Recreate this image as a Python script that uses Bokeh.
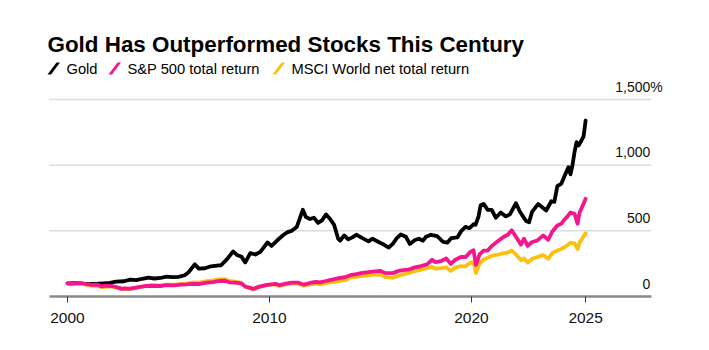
from bokeh.plotting import figure
from bokeh.models import Range1d, FixedTicker, Label, PolyAnnotation, ColumnDataSource
from bokeh.embed import file_html
from bokeh.resources import INLINE

# ---------------- data (index, Jan 2000 = 100; axis in %) ----------------
gold_t = [2000.0, 2000.4, 2000.7, 2001.1, 2001.5, 2001.8, 2002.1, 2002.4, 2002.8, 2003.1,
          2003.4, 2003.7, 2004.0, 2004.3, 2004.6, 2004.9, 2005.2, 2005.5, 2005.8, 2006.0,
          2006.3, 2006.5, 2006.8, 2007.1, 2007.4, 2007.6, 2007.9, 2008.2, 2008.4, 2008.6,
          2008.8, 2009.05, 2009.3, 2009.55, 2009.9, 2010.1, 2010.4, 2010.7, 2010.9, 2011.1,
          2011.35, 2011.5, 2011.65, 2011.8, 2012.0, 2012.2, 2012.4, 2012.6, 2012.8, 2013.0,
          2013.2, 2013.4, 2013.5, 2013.7, 2013.9, 2014.1, 2014.3, 2014.6, 2014.9, 2015.1,
          2015.4, 2015.6, 2015.9, 2016.1, 2016.3, 2016.5, 2016.75, 2016.95, 2017.2, 2017.4,
          2017.6, 2017.75, 2018.0, 2018.3, 2018.6, 2018.8, 2019.0, 2019.3, 2019.5, 2019.7,
          2019.9, 2020.1, 2020.2, 2020.35, 2020.45, 2020.6, 2020.8, 2021.0, 2021.2, 2021.45,
          2021.7, 2021.9, 2022.2, 2022.4, 2022.7, 2022.85, 2023.0, 2023.3, 2023.5, 2023.7,
          2023.95, 2024.1, 2024.25, 2024.45, 2024.6, 2024.8, 2024.9, 2025.0, 2025.1, 2025.2,
          2025.3, 2025.45, 2025.55, 2025.65]
gold_v = [100, 104, 98, 95, 97, 100, 104, 113, 116, 128,
          124, 135, 143, 137, 141, 152, 148, 150, 162, 185,
          245, 212, 215, 230, 235, 238, 285, 343, 315, 305,
          260, 330, 320, 340, 412, 385, 430, 470, 490, 500,
          530, 595, 660, 605, 590, 600, 560, 580, 625, 590,
          545, 440, 425, 465, 435, 450, 470, 445, 420, 440,
          415, 400, 372, 400, 445, 472, 455, 400, 430, 440,
          425, 455, 470, 460, 415, 410, 445, 450, 500, 530,
          520, 550, 545, 610, 695, 705, 660, 660, 600, 640,
          610, 625, 710, 645, 575, 565, 645, 705, 680, 655,
          725, 720, 840, 860, 915, 985, 930, 1000, 1100, 1175,
          1150, 1190, 1220, 1340]

spx_t = [2000.0, 2000.2, 2000.5, 2000.7, 2000.9, 2001.2, 2001.5, 2001.7, 2001.9, 2002.2,
         2002.5, 2002.7, 2002.8, 2003.1, 2003.3, 2003.6, 2003.9, 2004.2, 2004.6, 2004.9,
         2005.3, 2005.6, 2005.9, 2006.2, 2006.5, 2006.9, 2007.2, 2007.5, 2007.8, 2008.0,
         2008.3, 2008.6, 2008.8, 2009.0, 2009.2, 2009.5, 2009.9, 2010.3, 2010.5, 2010.8,
         2011.1, 2011.4, 2011.7, 2012.0, 2012.3, 2012.5, 2012.8, 2013.1, 2013.5, 2013.8,
         2014.0, 2014.3, 2014.6, 2014.9, 2015.2, 2015.5, 2015.7, 2016.1, 2016.4, 2016.7,
         2016.9, 2017.2, 2017.5, 2017.8, 2018.05, 2018.2, 2018.5, 2018.75, 2018.97, 2019.2,
         2019.5, 2019.7, 2019.95, 2020.1, 2020.22, 2020.4, 2020.6, 2020.8, 2021.0, 2021.3,
         2021.6, 2021.8, 2021.99, 2022.2, 2022.45, 2022.6, 2022.78, 2023.0, 2023.25, 2023.55,
         2023.8, 2024.0, 2024.25, 2024.45, 2024.6, 2024.75, 2024.9, 2025.1, 2025.25, 2025.35,
         2025.5, 2025.65]
spx_v = [100, 97, 100, 103, 95, 88, 90, 77, 82, 80,
         68, 58, 62, 60, 66, 73, 80, 82, 80, 86,
         85, 90, 92, 96, 95, 105, 110, 118, 120, 108,
         105, 100, 75, 68, 58, 75, 88, 96, 86, 98,
         105, 106, 90, 103, 112, 108, 118, 128, 142, 150,
         162, 170, 180, 185, 192, 195, 180, 178, 195, 202,
         205, 222, 232, 245, 280, 262, 270, 290, 248, 280,
         302, 300, 340, 352, 240, 320, 350, 350, 385, 420,
         455, 470, 505, 455, 395, 440, 385, 415, 425, 465,
         432, 495, 540, 555, 585, 610, 640, 630, 555, 640,
         690, 744]

msci_t = spx_t
msci_v = [100, 98, 99, 97, 90, 82, 82, 70, 76, 76,
          66, 56, 59, 56, 62, 72, 80, 84, 82, 90,
          90, 95, 100, 108, 105, 117, 122, 130, 132, 118,
          114, 105, 74, 66, 54, 74, 88, 92, 80, 93,
          98, 100, 82, 92, 98, 92, 102, 110, 118, 126,
          145, 150, 158, 160, 166, 168, 150, 142, 158, 172,
          180, 192, 205, 215, 225, 212, 216, 222, 195, 220,
          232, 230, 258, 262, 178, 250, 280, 295, 310, 318,
          330, 335, 350, 320, 275, 290, 258, 285, 300, 315,
          288, 330, 350, 362, 375, 390, 410, 405, 362, 410,
          445, 482]

series_names = ["Gold", "S&P 500 total return", "MSCI World net total return"]
series_colors = ["#000000", "#f5158c", "#fcc010"]

y_ticks = [0, 500, 1000, 1500]
y_tick_labels = ["0", "500", "1,000", "1,500"]
x_ticks = [2000, 2010, 2020, gold_t[-1]]
x_tick_labels = ["2000", "2010", "2020", "2025"]

title_text = "Gold Has Outperformed Stocks This Century"

# ---------------- geometry ----------------
W, H = 709, 350
FONT = "Liberation Sans"
BOTTOM = 54                      # axis panel height
FH = H - BOTTOM                  # frame height (frame spans full width)
px_per_year = 20.2
x_px_2000 = 67
x_lo, x_hi = 1999.1, 2028.9      # inner plot extent (axis line / gridlines)
xr0 = 2000 - x_px_2000 / px_per_year
xr1 = 2000 + (W - x_px_2000) / px_per_year
px_per_unit = 197 / 1500
yr1 = FH / px_per_unit

p = figure(width=W, height=H, output_backend="svg", toolbar_location=None,
           x_range=Range1d(xr0, xr1), y_range=Range1d(0, yr1),
           min_border_left=0, min_border_right=0, min_border_top=0, min_border_bottom=BOTTOM)
p.title.visible = False
p.outline_line_color = None
p.background_fill_color = "white"
p.border_fill_color = "white"
p.yaxis.visible = False
p.xgrid.visible = False
p.ygrid.visible = False

# horizontal gridlines over the inner extent
grid_src = ColumnDataSource(dict(y=[t for t in y_ticks if t > 0]))
p.segment(x0=x_lo, x1=x_hi, y0="y", y1="y", source=grid_src,
          line_color="#dcdcdc", line_width=1.5)

ax = p.xaxis[0]
ax.bounds = (x_lo, x_hi)
ax.ticker = FixedTicker(ticks=x_ticks)
ax.major_label_overrides = {t: l for t, l in zip(x_ticks, x_tick_labels)}
ax.axis_line_color = "#8a8a8a"
ax.axis_line_width = 2.5
ax.major_tick_line_color = "#333333"
ax.major_tick_line_width = 1
ax.major_tick_out = 6
ax.major_tick_in = 0
ax.minor_tick_line_color = None
ax.major_label_standoff = 10
ax.major_label_text_font = FONT
ax.major_label_text_font_size = "15.5px"
ax.major_label_text_color = "#111111"

# lines: gold, msci, s&p
for t, v, c in [(gold_t, gold_v, series_colors[0]), (msci_t, msci_v, series_colors[2]),
                (spx_t, spx_v, series_colors[1])]:
    src = ColumnDataSource(dict(x=t, y=v))
    p.line("x", "y", source=src, line_color=c, line_width=3.8, line_join="round", line_cap="round")

# y tick labels above gridlines, right-aligned
for v, lab in zip(y_ticks, y_tick_labels):
    p.add_layout(Label(x=x_hi, y=v, text=lab, text_align="right", text_baseline="alphabetic",
                       x_offset=-1, y_offset=13, text_font=FONT, text_font_size="14px",
                       text_color="#111111"))
p.add_layout(Label(x=x_hi, y=y_ticks[-1], text="%", text_align="left", text_baseline="alphabetic",
                   x_offset=-1, y_offset=13, text_font=FONT, text_font_size="14px",
                   text_color="#111111"))

# title and legend: screen units relative to frame (origin bottom-left, y up)
def sy(y_canvas):
    return FH - y_canvas

p.add_layout(Label(x=47, y=sy(44), x_units="screen", y_units="screen", text=title_text,
                   text_font=FONT, text_font_style="bold", text_font_size="22.4px",
                   text_color="#000000", text_baseline="alphabetic"))

leg_x = [47, 108, 272]
for lx, name, col in zip(leg_x, series_names, series_colors):
    xs = [lx, lx + 3.5, lx + 12.5, lx + 9]
    ys = [sy(74), sy(74), sy(62), sy(62)]
    p.add_layout(PolyAnnotation(xs=xs, ys=ys, xs_units="screen", ys_units="screen",
                                fill_color=col, fill_alpha=1, line_color=None))
    p.add_layout(Label(x=lx + 19, y=sy(68), x_units="screen", y_units="screen", text=name,
                       text_font=FONT, text_font_size="14.7px", text_color="#000000",
                       text_baseline="alphabetic"))

open("out.html", "w").write(file_html(p, INLINE))
